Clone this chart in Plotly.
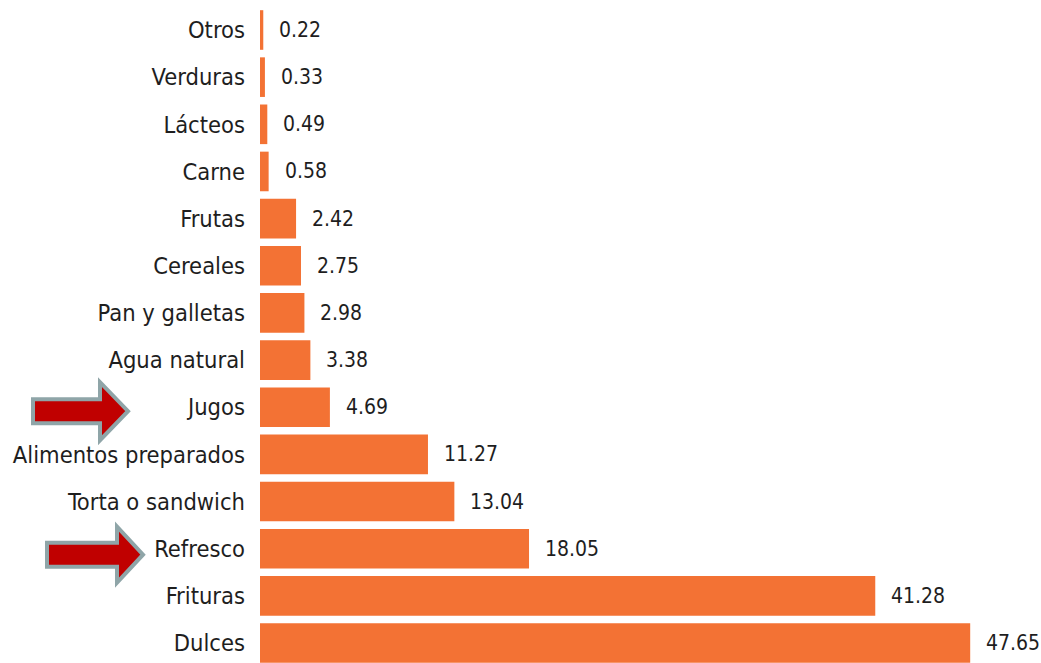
import plotly.graph_objects as go

# Consumption shares by food category (bottom to top)
categories = ["Dulces", "Frituras", "Refresco", "Torta o sandwich", "Alimentos preparados",
              "Jugos", "Agua natural", "Pan y galletas", "Cereales", "Frutas",
              "Carne", "Lácteos", "Verduras", "Otros"]
values = [47.65, 41.28, 18.05, 13.04, 11.27, 4.69, 3.38, 2.98, 2.75, 2.42,
          0.58, 0.49, 0.33, 0.22]
highlighted = ["Jugos", "Refresco"]

BAR_COLOR = "#F37234"
TEXT_COLOR = "#1E1E1E"
FONT = "DejaVu Sans Condensed, DejaVu Sans, sans-serif"

fig = go.Figure(
    go.Bar(
        x=values,
        y=categories,
        orientation="h",
        marker=dict(color=BAR_COLOR, line=dict(width=0)),
        width=0.84,
        hoverinfo="skip",
    )
)

# Value labels next to each bar
for cat, val in zip(categories, values):
    fig.add_annotation(
        x=val, y=cat, xref="x", yref="y",
        text=f"{val:.2f}", showarrow=False,
        xanchor="left", yanchor="middle", xshift=14,
        font=dict(family=FONT, size=21, color=TEXT_COLOR),
    )

# Block arrows pointing at the highlighted categories (pixel offsets from the plot's left edge)
arrow_geom = {
    "Jugos": dict(left=-227, base=-160, tip=-132, shaft=12, head=29, dy=-4),
    "Refresco": dict(left=-213, base=-143, tip=-117, shaft=12, head=28, dy=-6),
}
for cat in highlighted:
    g = arrow_geom[cat]
    dy = g["dy"]
    path = (
        f"M {g['left']},{dy + g['shaft']} L {g['base']},{dy + g['shaft']} "
        f"L {g['base']},{dy + g['head']} L {g['tip']},{dy} "
        f"L {g['base']},{dy - g['head']} L {g['base']},{dy - g['shaft']} "
        f"L {g['left']},{dy - g['shaft']} Z"
    )
    fig.add_shape(
        type="path", path=path,
        xref="paper", yref="y",
        xsizemode="pixel", ysizemode="pixel",
        xanchor=0, yanchor=cat,
        fillcolor="#C00000",
        line=dict(color="#8FA5A8", width=4),
        layer="above",
    )

fig.update_layout(
    width=1041, height=663,
    margin=dict(l=260, r=0, t=0, b=0),
    paper_bgcolor="white", plot_bgcolor="white",
    showlegend=False,
    bargap=0.16,
    xaxis=dict(range=[0, 52.4], visible=False, fixedrange=True),
    yaxis=dict(
        range=[-0.424, 13.636],
        showgrid=False, zeroline=False, showline=False,
        ticks="", ticklabelstandoff=14, automargin=False,
        tickfont=dict(family=FONT, size=23.5, color=TEXT_COLOR),
        fixedrange=True,
    ),
)

fig.write_html("out.html")
